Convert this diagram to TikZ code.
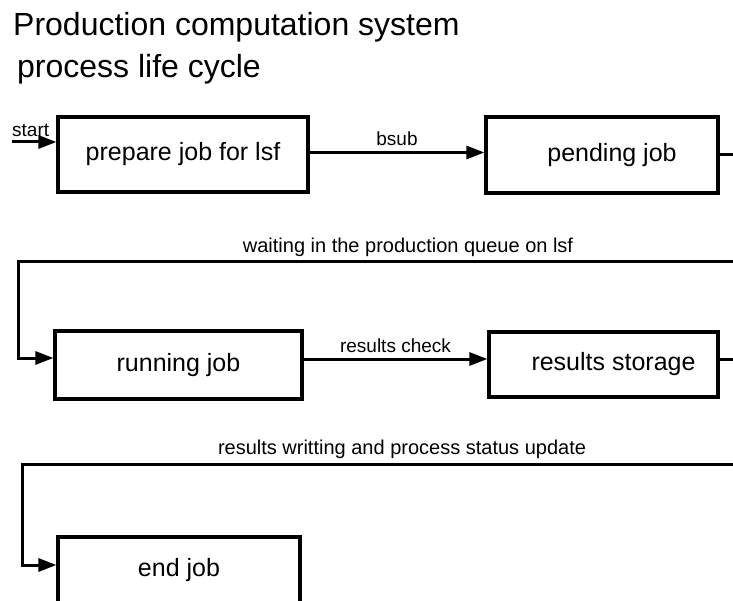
\documentclass[tikz,border=0pt]{standalone}
\usepackage{fontspec}
\setmainfont{Liberation Sans}
\usetikzlibrary{arrows.meta}

\tikzset{
  stage/.style={draw, line width=3.2pt, inner sep=0pt, font=\fontsize{25}{30}\selectfont},
  flow/.style={line width=3pt, -{Triangle[length=18pt,width=13pt]}},
  small/.style={inner sep=0pt, font=\fontsize{19}{22}\selectfont},
  note/.style={inner sep=0pt, font=\fontsize{20}{24}\selectfont},
  heading/.style={inner sep=0pt, anchor=base west, font=\fontsize{32}{38}\selectfont}
}

\begin{document}
\begin{tikzpicture}[x=1pt,y=-1pt]
  \useasboundingbox (0,0) rectangle (733,601);
  \clip (0,0) rectangle (733,601);

  % headings
  \node[heading] (title) at (13,36) {Production computation system};
  \node[heading] (sub) at (17,78) {process life cycle};

  % stages
  \node[stage, minimum width=250pt, minimum height=75pt] (prep) at (183,154.5) {prepare job for lsf};
  \node[stage, minimum width=232pt, minimum height=76pt] (pend) at (602,155) {\hspace*{20pt}pending job};
  \node[stage, minimum width=247pt, minimum height=68pt] (run) at (178.5,365) {running job};
  \node[stage, minimum width=229pt, minimum height=65pt] (store) at (603.5,364.5) {\hspace*{20pt}results storage};
  \node[stage, minimum width=242pt, minimum height=66pt] (done) at (179,570) {\raisebox{5pt}{end job}};

  % routing points
  \coordinate (in) at (12,142);
  \coordinate (edge) at (760,0);
  \coordinate (w1) at (18,262);
  \coordinate (w2) at (22,464);

  % start
  \draw[flow] (in) -- (in -| prep.west);
  \node[small, anchor=south west] (startlbl) at (12,137) {start};

  % prepare -> pending
  \draw[flow] ([yshift=2pt]prep.east) -- ([yshift=2pt]prep.east -| pend.west)
    node[small, midway, above=5pt] (bsub) {bsub};

  % pending -> running (wrapping round)
  \draw[flow] (pend.east) -- (pend.east -| edge) |- (w1) |- ([yshift=7pt]run.west);
  \node[note] (waitlbl) at (408,247) {waiting in the production queue on lsf};

  % running -> storage
  \draw[flow] ([yshift=6pt]run.east) -- ([yshift=6pt]run.east -| store.west)
    node[small, midway, above=5pt] (check) {results check};

  % storage -> end (wrapping round)
  \draw[flow] ([yshift=5pt]store.east) -- ([yshift=5pt]store.east -| edge) |- (w2) |- (w2 |- 0,565) -- (0,565 -| done.west);
  \node[note] (writelbl) at (402,449) {results writting and process status update};
\end{tikzpicture}
\end{document}
